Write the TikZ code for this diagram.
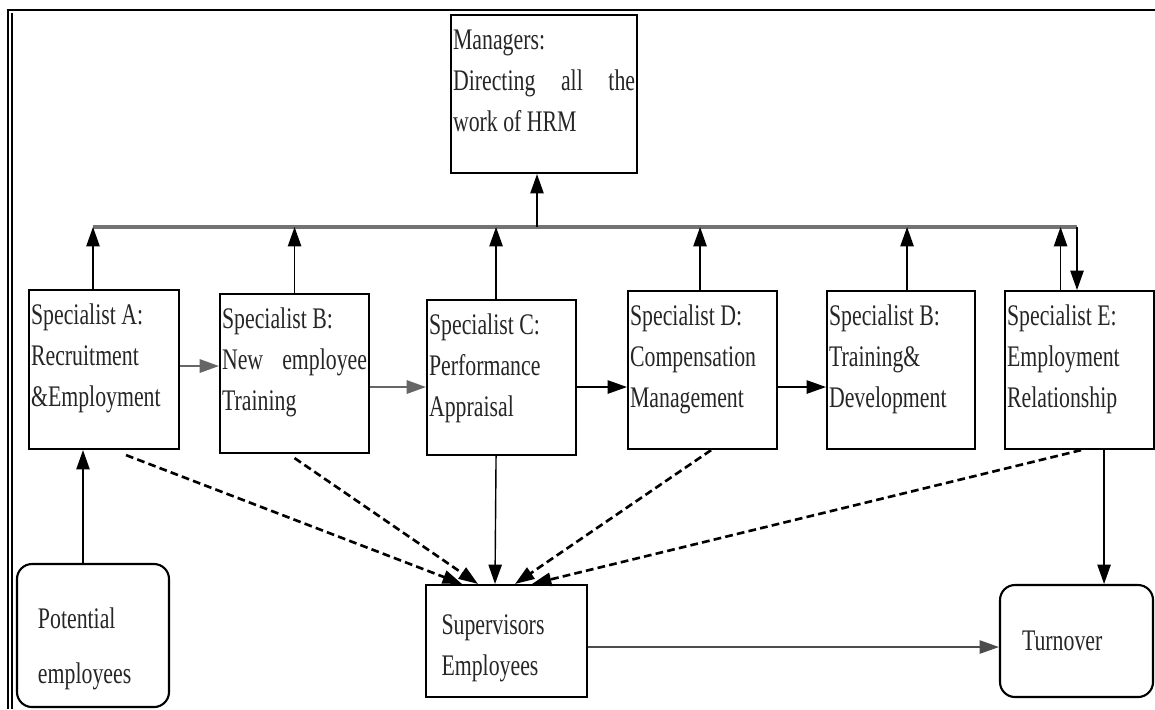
\documentclass[tikz,border=0pt]{standalone}
\usepackage{fontspec}
\setmainfont{Liberation Serif}[FakeStretch=0.73]
\usetikzlibrary{arrows.meta}

\newcommand{\boxtxt}[3]{\parbox[t][#2][t]{#1}{\raggedright\strut #3}}

\begin{document}
\begin{tikzpicture}[font=\fontsize{8.5}{11.6}\selectfont,
  specbox/.style={draw, line width=0.6pt, anchor=north west, inner xsep=0.02cm, inner ysep=0.06cm, text=black!85},
  endbox/.style={draw, line width=0.6pt, rounded corners=0.15cm, align=left, text=black!85},
  arr/.style={-{Triangle[length=5.5pt,width=3.8pt]}},
  dasharr/.style={arr, line width=0.75pt, dash pattern=on 2.2pt off 1.2pt},
  busline/.style={line width=0.9pt, draw=black!55}]
  \useasboundingbox (0,0) rectangle (11.55,-7.09);
  % frame
  \draw[line width=0.6pt] (0.08,-7.09) -- (0.08,-0.10) -- (11.55,-0.10);
  \draw[line width=0.5pt] (0.12,-7.09) -- (0.12,-0.13);

  \node[specbox] (mgr) at (4.50,-0.14) {\boxtxt{1.82cm}{1.46cm}{Managers:\\Directing\hfill all\hfill the\\work of HRM}};

  \node[specbox] (spa) at (0.28,-2.89) {\boxtxt{1.46cm}{1.47cm}{Specialist A:\\Recruitment\\\&Employment}};
  \node[specbox] (spb) at (2.19,-2.93) {\boxtxt{1.45cm}{1.47cm}{Specialist B:\\New\hfill employee\\Training}};
  \node[specbox] (spc) at (4.26,-2.99) {\boxtxt{1.45cm}{1.43cm}{Specialist C:\\Performance\\Appraisal}};
  \node[specbox] (spd) at (6.27,-2.90) {\boxtxt{1.45cm}{1.46cm}{Specialist D:\\Compensation\\Management}};
  \node[specbox] (spf) at (8.26,-2.90) {\boxtxt{1.44cm}{1.46cm}{Specialist B:\\Training\&\\Development}};
  \node[specbox] (spe) at (10.04,-2.90) {\boxtxt{1.45cm}{1.46cm}{Specialist E:\\Employment\\Relationship}};

  \node[endbox, minimum width=1.52cm, minimum height=1.43cm, text width=1.10cm, text height=0.48cm] (pot) at (0.93,-6.355) {Potential\\[0.14cm]employees};
  \node[endbox, rounded corners=0pt, minimum width=1.61cm, minimum height=1.12cm, text width=1.30cm, text height=0.34cm] (sup) at (5.065,-6.41) {Supervisors\\Employees};
  \node[endbox, minimum width=1.53cm, minimum height=1.12cm, text width=1.09cm] (trn) at (10.765,-6.41) {Turnover};

  % bus to managers
  \coordinate (busw) at (0.93,-2.27);
  \coordinate (buse) at (10.77,-2.27);
  \draw[busline] (busw) -- (buse);
  \draw[arr] (buse) -- (spe.north -| buse);
  \draw[arr] (5.37,-2.27 |- busw) -- (5.37,0 |- mgr.south);

  \draw[arr] (spa.north -| busw) -- (busw);
  \draw[arr] (spb.north) -- (spb.north |- busw);
  \draw[arr] ([xshift=-0.055cm]spc.north) -- ([xshift=-0.055cm]spc.north |- busw);
  \draw[arr] ([xshift=-0.025cm]spd.north) -- ([xshift=-0.025cm]spd.north |- busw);
  \draw[arr] ([xshift=0.06cm]spf.north) -- ([xshift=0.06cm]spf.north |- busw);
  \draw[arr] ([xshift=-0.19cm]spe.north) -- ([xshift=-0.19cm]spe.north |- busw);

  % chain of specialists
  \draw[arr, line width=0.6pt, draw=black!60] (spa.east |- 0,-3.66) -- (spb.west |- 0,-3.66);
  \draw[arr, line width=0.6pt, draw=black!60] (spb.east |- 0,-3.87) -- (spc.west |- 0,-3.87);
  \draw[arr] (spc.east |- 0,-3.87) -- (spd.west |- 0,-3.87);
  \draw[arr] (spd.east |- 0,-3.87) -- (spf.west |- 0,-3.87);

  % to supervisors
  \draw[dasharr] ([xshift=0.22cm,yshift=-0.05cm]spa.south) -- ([xshift=-0.445cm]sup.north);
  \draw[dasharr] ([yshift=-0.04cm]spb.south) -- ([xshift=-0.285cm]sup.north);
  \draw[arr] ([xshift=-0.055cm]spc.south) -- ([xshift=-0.115cm]sup.north);
  \draw[dasharr] ([xshift=0.085cm]spd.south) -- ([xshift=0.085cm]sup.north);
  \draw[dasharr] ([xshift=0.015cm]spe.south) -- ([xshift=0.255cm]sup.north);

  \draw[arr] ([xshift=-0.1cm]pot.north) -- ([xshift=-0.1cm]pot.north |- spa.south);
  \draw[arr] ([xshift=0.245cm]spe.south) -- ([xshift=0.245cm]spe.south |- trn.north);
  \draw[arr, draw=black!70] (sup.east |- 0,-6.47) -- (trn.west |- 0,-6.47);
\end{tikzpicture}
\end{document}
